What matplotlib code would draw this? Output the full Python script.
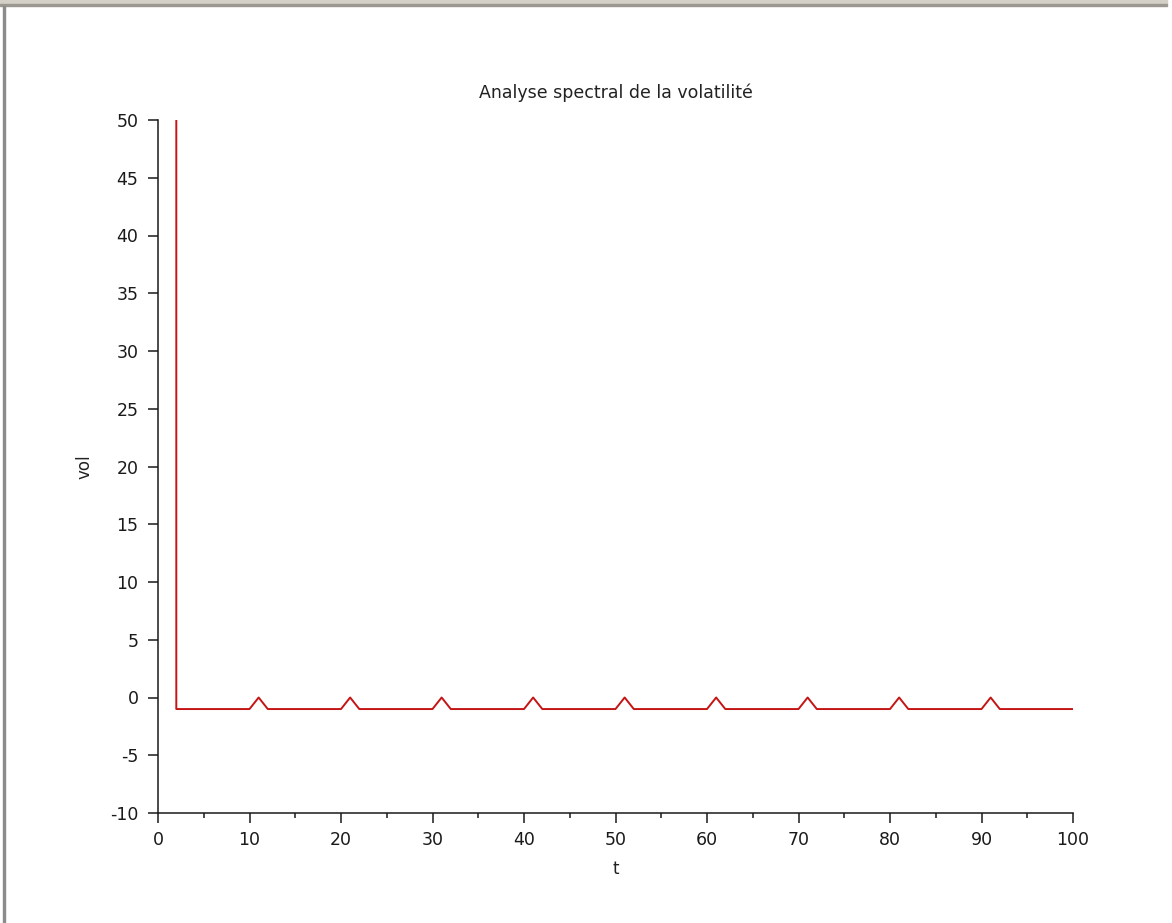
import matplotlib
matplotlib.use('Agg')
import matplotlib.pyplot as plt
from matplotlib.patches import Rectangle
from matplotlib.ticker import MultipleLocator

# Spectral volatility data
t = [2, 2, 10, 11, 12, 20, 21, 22, 30, 31, 32, 40, 41, 42, 50, 51, 52,
     60, 61, 62, 70, 71, 72, 80, 81, 82, 90, 91, 92, 100]
vol = [50, -1, -1, 0, -1, -1, 0, -1, -1, 0, -1, -1, 0, -1, -1, 0, -1,
       -1, 0, -1, -1, 0, -1, -1, 0, -1, -1, 0, -1, -1]

x_ticks = [0, 10, 20, 30, 40, 50, 60, 70, 80, 90, 100]
y_ticks = [-10, -5, 0, 5, 10, 15, 20, 25, 30, 35, 40, 45, 50]

plt.rcParams['font.family'] = ['DejaVu Sans']
plt.rcParams['axes.unicode_minus'] = False

fig = plt.figure(figsize=(11.72, 9.23), dpi=100)
fig.patch.set_facecolor('white')

# Window frame (grey border on top and left)
fig.patches.append(Rectangle((0, 1 - 4 / 923), 1167 / 1172, 4 / 923,
                             transform=fig.transFigure, color='#d4d0c8', zorder=0))
fig.patches.append(Rectangle((0, 1 - 6 / 923), 1167 / 1172, 2 / 923,
                             transform=fig.transFigure, color='#9a9890', zorder=0))
fig.patches.append(Rectangle((3 / 1172, 0), 2 / 1172, 1 - 6 / 923,
                             transform=fig.transFigure, color='#8c8c8c', zorder=0))

ax = fig.add_axes([158 / 1172, 110 / 923, 915 / 1172, 693 / 923])
ax.plot(t, vol, color='#c41414', linewidth=1.4)

ax.set_xlim(0, 100)
ax.set_ylim(-10, 50)
ax.set_xticks(x_ticks)
ax.set_yticks(y_ticks)
ax.xaxis.set_minor_locator(MultipleLocator(5))

for side in ('top', 'right'):
    ax.spines[side].set_visible(False)
for side in ('left', 'bottom'):
    ax.spines[side].set_linewidth(1.1)
    ax.spines[side].set_color('#1a1a1a')

ax.tick_params(axis='both', which='major', direction='out', length=7,
               width=1.1, colors='#1a1a1a', labelsize=12.5)
ax.tick_params(axis='y', which='major', pad=7)
ax.tick_params(axis='x', which='major', pad=6)
ax.tick_params(axis='x', which='minor', direction='out', length=3.5,
               width=1.1, colors='#1a1a1a')

ax.set_title('Analyse spectral de la volatilité', fontsize=12.5,
             color='#222222', pad=16)
ax.set_xlabel('t', fontsize=12, color='#222222', labelpad=8)
ax.set_ylabel('vol', fontsize=12, color='#222222', labelpad=12)

fig.savefig('out.png', dpi=100, facecolor='white')
